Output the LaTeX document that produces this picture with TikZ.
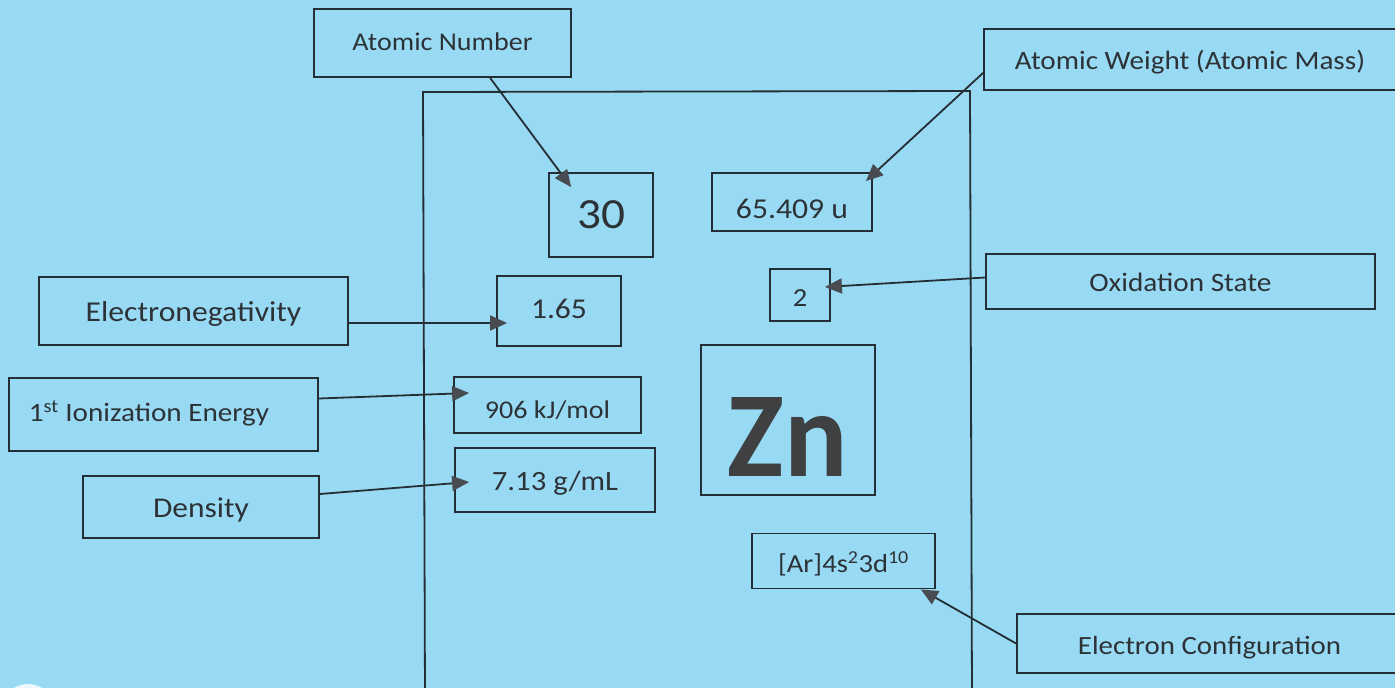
\documentclass[tikz,border=0pt]{standalone}
\usepackage{fontspec}
\setmainfont{Carlito}[FakeStretch=1.1]
\usetikzlibrary{arrows.meta,calc}
\definecolor{bg}{RGB}{152,218,244}
\definecolor{ink}{RGB}{36,46,52}
\definecolor{txt}{RGB}{45,50,55}
\definecolor{tipc}{RGB}{72,76,80}
\definecolor{zncol}{RGB}{62,64,66}
\newcommand{\fs}[1]{\fontsize{#1}{#1}\selectfont}
\begin{document}
\begin{tikzpicture}[x=1pt,y=-1pt,
  box/.style={draw=ink,line width=1.8pt,inner sep=0pt,text=txt,anchor=center},
  sz/.style={font=\fs{#1},text height=0.74*#1pt+7pt,text depth=0.22*#1pt},
  conn/.style={draw=ink,line width=1.8pt,
     -{Triangle[length=17pt,width=15pt,fill=tipc,color=tipc]}},
  frame/.style={draw=ink,line width=1.8pt}]
\useasboundingbox (0,0) rectangle (1395,688);
\fill[bg] (0,0) rectangle (1395,688);
\fill[white!80!bg] (28,712) circle (28);
% frame of the element tile
\draw[frame] (425,700) -- (423,92) -- (970,91) -- (972,700);
% label boxes
\node[box,minimum width=257pt,minimum height=68pt,sz=25.5,text height=20.9pt] (an) at (442.5,43) {Atomic Number};
\node[box,minimum width=412pt,minimum height=61pt,sz=26.5] (aw) at (1190,59.5) {Atomic Weight (Atomic Mass)};
\node[box,minimum width=389pt,minimum height=55pt,sz=26.6] (ox) at (1180.5,281.5) {Oxidation State};
\node[box,minimum width=309pt,minimum height=68pt,sz=28.8] (en) at (193.5,311) {Electronegativity};
\node[box,minimum width=309pt,minimum height=73pt,sz=26.5,text height=20.6pt] (ion) at (163.5,414.5) {1\textsuperscript{st} Ionization Energy\hspace*{29pt}};
\node[box,minimum width=236pt,minimum height=62pt,sz=28.6] (den) at (201,507) {Density};
\node[box,minimum width=385pt,minimum height=59pt,sz=26.3,text height=28.5pt] (ec) at (1209.5,643.5) {Electron Configuration};
% value boxes
\node[box,minimum width=104pt,minimum height=84pt,sz=43,text height=36.8pt] (n30) at (601,215) {30};
\node[box,minimum width=160pt,minimum height=58pt,sz=28.8,text height=39.3pt] (nmass) at (792,202) {65.409 u};
\node[box,minimum width=60pt,minimum height=52pt,sz=26,text height=29.2pt] (n2) at (800,295) {2};
\node[box,minimum width=124pt,minimum height=70pt,sz=28.7,text height=22pt] (n165) at (559,311) {1.65};
\node[box,minimum width=187pt,minimum height=56pt,sz=25.5,text height=32.9pt] (n906) at (547.5,405) {906 kJ/mol};
\node[box,minimum width=200pt,minimum height=64pt,sz=27.9] (n713) at (555,480) {7.13 g/mL};
\node[box,minimum width=174pt,minimum height=150pt,text height=113pt,text depth=0pt,text=zncol] (zn) at (788,420) {\resizebox{120pt}{79pt}{\bfseries Zn}};
\node[box,minimum width=183pt,minimum height=55pt,sz=26,text height=29pt] (ncfg) at (843.5,561) {[Ar]4s\textsuperscript{2}3d\textsuperscript{10}};
% connectors
\draw[conn] ($(an.south west)+(177,0)$) -- ($(n30.north west)+(23,15)$);
\draw[conn] ($(aw.south west)+(0,-18)$) -- ($(nmass.north east)+(-7,9)$);
\draw[conn] ($(ox.west)+(0,-4)$) -- ($(n2.east)+(-6,-8)$);
\draw[conn] ($(en.east)+(0,12)$) -- ($(n165.west)+(11,12)$);
\draw[conn] ($(ion.east)+(0,-16)$) -- ($(n906.west)+(16,-12)$);
\draw[conn] ($(den.east)+(0,-13)$) -- ($(n713.west)+(15,2)$);
\draw[conn] (ec.west) -- ($(ncfg.south east)+(-15,0)$);
\end{tikzpicture}
\end{document}
